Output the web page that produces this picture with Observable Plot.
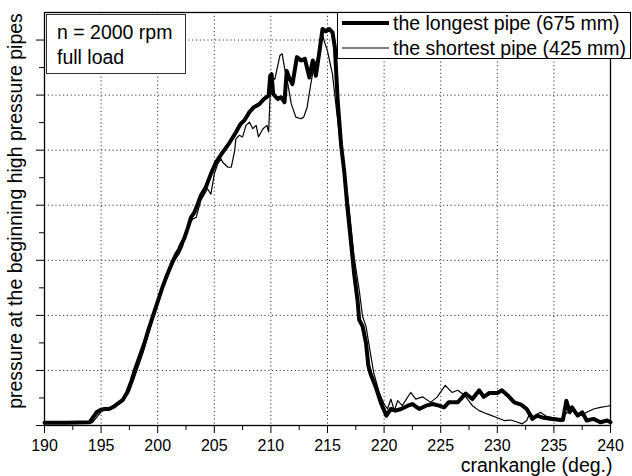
<!DOCTYPE html>
<html>
<head>
<meta charset="utf-8">
<script src="https://cdn.jsdelivr.net/npm/d3@7"></script>
<script src="https://cdn.jsdelivr.net/npm/@observablehq/plot@0.6"></script>
<style>
  html, body { margin: 0; padding: 0; background: #fff; }
  #wrap { position: relative; width: 632px; height: 476px; font-family: "Liberation Sans", Arial, sans-serif; }
  #wrap svg { display: block; }
  #legend { position: absolute; left: 0; top: 0; pointer-events: none; }
</style>
</head>
<body>
<div id="wrap"></div>
<script>
// crank angle (deg.) and pressure (in grid units, no y tick labels) for each pipe
const longestX = [190,192,194.0,194.3,194.6,194.9,195.3,195.7,196.1,196.5,196.9,197.3,197.7,198.0,198.4,198.8,199.2,199.6,200.0,200.4,200.8,201.2,201.6,201.9,202.06,202.35,202.65,202.94,203.24,203.53,203.8,204.26,204.7,205.15,205.7,206.3,206.9,207.3,207.65,208.1,208.5,209.0,209.4,209.8,209.94,210.06,210.2,210.6,210.9,211.2,211.4,211.6,211.9,212.3,212.65,213.0,213.4,213.7,213.97,214.26,214.56,214.85,215.15,215.44,215.65,215.9,216.2,216.5,216.76,217.06,217.35,217.65,217.8,218.1,218.4,218.6,218.8,219.26,219.7,220.2,220.6,221.0,221.5,222.1,222.5,223.1,223.7,224.3,224.85,225.3,225.7,226.5,227.2,227.8,228.4,228.8,229.3,230.0,230.4,230.9,231.5,232.1,232.6,233.1,233.5,234.1,234.85,235.6,235.8,236.1,236.4,236.6,237.1,237.5,237.9,238.5,239.1,239.7,240];
const longestP = [0.05,0.05,0.06,0.15,0.24,0.28,0.3,0.3,0.34,0.4,0.46,0.6,0.82,1.02,1.25,1.48,1.75,2.0,2.25,2.5,2.72,2.92,3.1,3.2,3.28,3.4,3.58,3.78,3.87,4.02,4.17,4.33,4.57,4.78,4.95,5.12,5.32,5.47,5.54,5.69,5.78,5.84,5.93,5.99,6.35,6.38,6.02,5.93,5.96,5.87,6.44,6.32,6.2,6.69,6.63,6.66,6.32,6.63,6.35,6.75,7.2,7.16,7.2,7.14,6.87,5.9,5.1,4.57,3.96,3.36,2.76,2.28,1.92,1.8,1.5,1.1,0.94,0.7,0.42,0.18,0.3,0.27,0.3,0.36,0.39,0.3,0.36,0.39,0.36,0.33,0.42,0.42,0.58,0.48,0.64,0.52,0.59,0.59,0.64,0.55,0.42,0.38,0.3,0.12,0.18,0.14,0.12,0.1,0.1,0.45,0.24,0.33,0.18,0.24,0.09,0.12,0.06,0.09,0.06];

const shortestX = [190,192,194.2,194.5,194.8,195.1,195.5,195.9,196.3,196.7,197.1,197.5,197.9,198.3,198.7,199.1,199.5,199.9,200.3,200.7,201.1,201.5,201.9,202.2,202.5,202.8,203.1,203.4,203.8,204.4,204.7,205.0,205.3,205.6,205.74,206.2,206.5,206.8,206.9,207.2,207.5,207.8,208.1,208.4,208.7,208.9,209.3,209.65,209.8,210.0,210.35,210.8,211.0,211.2,211.5,211.8,212.2,212.65,212.9,213.2,213.5,213.8,214.1,214.35,214.56,214.7,215.0,215.44,215.7,216.1,216.3,216.9,217.35,217.8,218.1,218.4,218.8,219.1,219.6,220.0,220.3,220.6,220.9,221.2,221.6,222.35,222.8,223.4,224.1,224.7,225.4,226.0,226.5,227.1,227.8,228.4,229.1,230.0,230.6,231.2,231.8,232.2,232.6,232.9,233.2,233.8,234.4,235.0,235.6,236.2,236.8,237.4,237.9,238.5,239.1,239.7,240];
const shortestP = [0.04,0.04,0.05,0.12,0.2,0.27,0.3,0.31,0.36,0.42,0.5,0.62,0.85,1.08,1.32,1.6,1.88,2.18,2.42,2.62,2.82,3.0,3.12,3.25,3.48,3.65,3.75,3.78,4.08,4.3,4.2,4.57,4.75,4.84,4.78,4.69,4.69,4.99,5.2,5.27,5.24,5.45,5.51,5.39,5.45,5.24,5.39,5.45,5.33,6.32,6.29,6.72,6.75,6.5,6.2,5.84,5.6,5.57,5.6,5.78,6.17,6.53,6.66,6.75,7.1,6.99,6.8,6.38,5.9,5.18,5.0,3.96,3.06,2.46,1.98,1.8,1.3,0.94,0.58,0.39,0.3,0.48,0.27,0.45,0.36,0.6,0.48,0.52,0.42,0.52,0.73,0.6,0.64,0.55,0.36,0.27,0.21,0.14,0.09,0.1,0.06,0.03,0.09,0.24,0.15,0.24,0.16,0.14,0.12,0.24,0.27,0.18,0.24,0.3,0.33,0.35,0.36];

const xMajor = [190,195,200,205,210,215,220,225,230,235,240];
const xMinor = [192.5,197.5,202.5,207.5,212.5,217.5,222.5,227.5,232.5,237.5];
const yMajor = [0,1,2,3,4,5,6,7];
const yMinor = [0.5,1.5,2.5,3.5,4.5,5.5,6.5];
const xGrid = [195,200,205,210,215,220,225,230,235];
const yGrid = [1,2,3,4,5,6,7];

const xLabel = "crankangle (deg.)";
const yLabel = "pressure at the beginning high pressure pipes";
const boxLines = ["n = 2000 rpm", "full load"];
const seriesNames = ["the longest pipe (675 mm)", "the shortest pipe (425 mm)"];

const longest = longestX.map((x, i) => ({x, y: longestP[i]}));
const shortest = shortestX.map((x, i) => ({x, y: shortestP[i]}));

const FONT = "Liberation Sans, Arial, sans-serif";
const chart = Plot.plot({
  width: 632,
  height: 476,
  marginLeft: 44,
  marginRight: 22,
  marginTop: 12,
  marginBottom: 51,
  style: {fontFamily: FONT, background: "#fff", color: "#000"},
  x: {domain: [190, 240], label: null},
  y: {domain: [0, 7.5], label: null},
  marks: [
    Plot.gridX(xGrid, {stroke: "#222", strokeOpacity: 0.9, strokeDasharray: "1.2,2.6", strokeWidth: 1}),
    Plot.gridY(yGrid, {stroke: "#222", strokeOpacity: 0.9, strokeDasharray: "1.2,2.6", strokeWidth: 1}),
    Plot.axisX(xMajor, {tickSize: 8, tickPadding: 6, fontSize: 16, stroke: "#000", label: null}),
    Plot.axisX(xMinor, {tickSize: 5, text: null, stroke: "#000", label: null}),
    Plot.axisY(yMajor, {tickSize: 8, text: null, stroke: "#000", label: null}),
    Plot.axisY(yMinor, {tickSize: 5, text: null, stroke: "#000", label: null}),
    Plot.line(shortest, {x: "x", y: "y", stroke: "#000", strokeWidth: 1.2, strokeLinejoin: "round"}),
    Plot.line(longest, {x: "x", y: "y", stroke: "#000", strokeWidth: 4, strokeLinejoin: "round"}),
    Plot.frame({stroke: "#000", strokeWidth: 1.3}),
    Plot.text([xLabel], {frameAnchor: "bottom-right", text: d => d, textAnchor: "end", lineAnchor: "middle", dy: 40, dx: 2, fontSize: 19.5, fill: "#000"}),
    Plot.text([yLabel], {frameAnchor: "left", text: d => d, rotate: -90, textAnchor: "middle", lineAnchor: "middle", dx: -29, dy: -8, fontSize: 19.5, fill: "#000"})
  ]
});

const wrap = document.getElementById("wrap");
wrap.appendChild(chart);

// legend boxes drawn on top of the plot area
const ns = "http://www.w3.org/2000/svg";
const leg = document.createElementNS(ns, "svg");
leg.setAttribute("id", "legend");
leg.setAttribute("width", 632);
leg.setAttribute("height", 476);
leg.style.fontFamily = FONT;
function el(tag, attrs, text) {
  const e = document.createElementNS(ns, tag);
  for (const k in attrs) e.setAttribute(k, attrs[k]);
  if (text != null) e.textContent = text;
  leg.appendChild(e);
  return e;
}
el("rect", {x: 46.5, y: 14.5, width: 139, height: 59, fill: "#fff", stroke: "#333", "stroke-width": 1});
boxLines.forEach((t, i) => el("text", {x: 57, y: 39 + i * 25, "font-size": 19.5, fill: "#000"}, t));
el("rect", {x: 337.5, y: 12.5, width: 293, height: 46, fill: "#fff", stroke: "#000", "stroke-width": 1});
[4, 1.2].forEach((w, i) => {
  el("line", {x1: 342, x2: 389, y1: 23 + i * 25, y2: 23 + i * 25, stroke: "#000", "stroke-width": w});
  el("text", {x: 393, y: 30 + i * 25, "font-size": 19.5, fill: "#000"}, seriesNames[i]);
});
wrap.appendChild(leg);
</script>
</body>
</html>
